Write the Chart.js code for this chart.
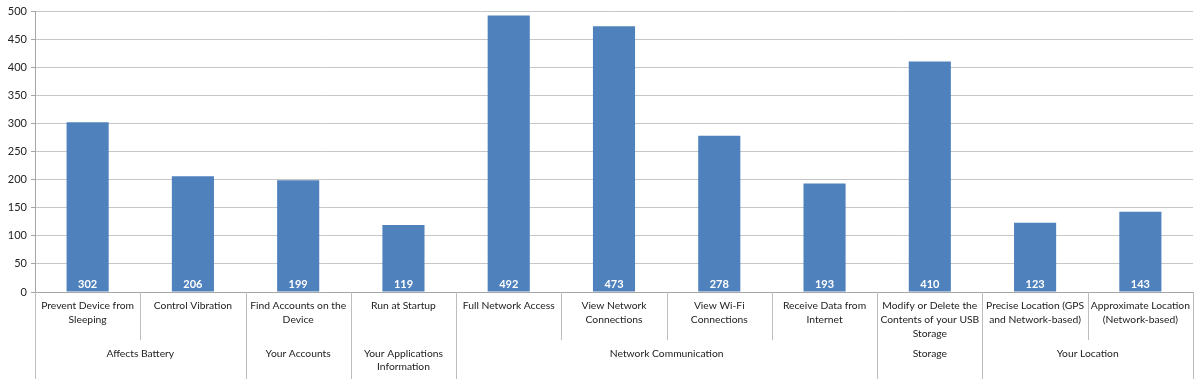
<!DOCTYPE html>
<html>
<head>
<meta charset="utf-8">
<script src="https://cdn.jsdelivr.net/npm/chart.js@4"></script>
<style>
  html, body { margin: 0; padding: 0; background: #fff; }
  #wrap { width: 1200px; height: 379px; }
</style>
</head>
<body>
<div id="wrap"><canvas id="bar-chart"></canvas></div>
<script>
// permissions and how many apps ask for them
var permissions = [
    ["Prevent Device from", "Sleeping"],
    ["Control Vibration"],
    ["Find Accounts on the", "Device"],
    ["Run at Startup"],
    ["Full Network Access"],
    ["View Network", "Connections"],
    ["View Wi-Fi", "Connections"],
    ["Receive Data from", "Internet"],
    ["Modify or Delete the", "Contents of your USB", "Storage"],
    ["Precise Location (GPS", "and Network-based)"],
    ["Approximate Location", "(Network-based)"]
];
var appCounts = [302, 206, 199, 119, 492, 473, 278, 193, 410, 123, 143];

// groups: label lines, first index, last index
var groupNames = [
    ["Affects Battery"],
    ["Your Accounts"],
    ["Your Applications", "Information"],
    ["Network Communication"],
    ["Storage"],
    ["Your Location"]
];
var groupStart = [0, 2, 3, 4, 8, 9];
var groupEnd = [1, 2, 3, 7, 8, 10];

var yTicks = [0, 50, 100, 150, 200, 250, 300, 350, 400, 450, 500];

var FONT = "Lato, 'Open Sans', sans-serif";

var labelsPlugin = {
    id: 'twoLevelAxis',
    afterDraw: function (chart) {
        var ctx = chart.ctx;
        var x = chart.scales.x;
        var area = chart.chartArea;
        var bottom = chart.height;
        var step = (area.right - area.left) / permissions.length;
        ctx.save();

        // separators
        ctx.strokeStyle = '#bdbdbd';
        ctx.lineWidth = 1;
        for (var i = 0; i <= permissions.length; i++) {
            var px = Math.round(area.left + i * step) + 0.5;
            var full = i === 0 || i === permissions.length || groupStart.indexOf(i) >= 0;
            ctx.beginPath();
            ctx.moveTo(px, area.bottom);
            ctx.lineTo(px, full ? bottom : area.bottom + 48);
            ctx.stroke();
        }

        // category labels
        ctx.fillStyle = '#222';
        ctx.font = '10.3px ' + FONT;
        ctx.textAlign = 'center';
        ctx.textBaseline = 'middle';
        permissions.forEach(function (lines, i) {
            var cx = x.getPixelForValue(i);
            lines.forEach(function (t, j) {
                ctx.fillText(t, cx, area.bottom + 14 + j * 14);
            });
        });

        // group labels
        groupNames.forEach(function (lines, g) {
            var l = area.left + groupStart[g] * step;
            var r = area.left + (groupEnd[g] + 1) * step;
            lines.forEach(function (t, j) {
                ctx.fillText(t, (l + r) / 2, area.bottom + 62 + j * 13);
            });
        });

        // value labels inside bars
        var meta = chart.getDatasetMeta(0);
        ctx.fillStyle = '#fff';
        ctx.font = 'bold 11px ' + FONT;
        meta.data.forEach(function (bar, i) {
            ctx.fillText(appCounts[i], bar.x, area.bottom - 8);
        });
        ctx.restore();
    }
};

var ctx = document.getElementById("bar-chart");
var barChart = new Chart(ctx, {
    type: 'bar',
    data: {
        labels: permissions.map(function (l) { return l.join(' '); }),
        datasets: [{
            label: 'Apps',
            data: appCounts,
            backgroundColor: '#4f81bd',
            barPercentage: 0.4,
            categoryPercentage: 1.0
        }]
    },
    options: {
        responsive: true,
        maintainAspectRatio: false,
        animation: false,
        layout: { padding: { top: 11, right: 7, left: 0, bottom: 0 } },
        plugins: {
            legend: { display: false },
            tooltip: { enabled: false }
        },
        scales: {
            x: {
                ticks: { display: false },
                grid: { display: false },
                border: { color: '#a6a6a6' },
                afterFit: function (scale) { scale.height = 87; }
            },
            y: {
                min: 0,
                max: 500,
                afterBuildTicks: function (scale) {
                    scale.ticks = yTicks.map(function (v) { return { value: v }; });
                },
                ticks: {
                    color: '#222',
                    font: { family: FONT, size: 11 },
                    padding: 4
                },
                grid: { color: '#c6c6c6', tickLength: 4, tickColor: '#a6a6a6' },
                border: { color: '#a6a6a6' },
                afterFit: function (scale) { scale.width = 35; }
            }
        }
    },
    plugins: [labelsPlugin]
});
</script>
</body>
</html>
